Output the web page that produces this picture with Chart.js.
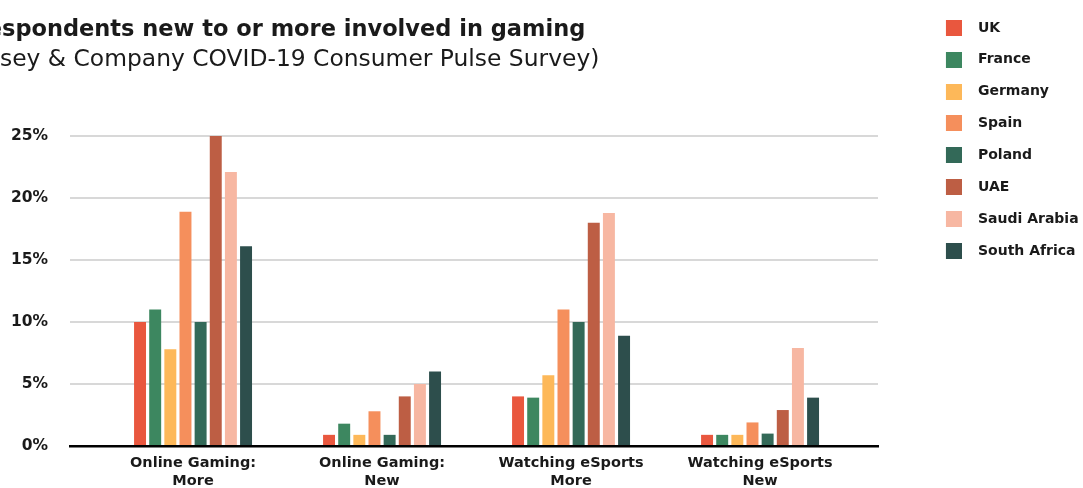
<!DOCTYPE html>
<html lang="en">
<head>
    <meta charset="UTF-8">
    <title>Gaming during COVID-19</title>
    <script src="https://cdn.jsdelivr.net/npm/chart.js@4"></script>
    <style>
        body {
            margin: 0;
            background: #ffffff;
            overflow: hidden;
        }
        #wrap {
            position: relative;
            width: 1083px;
            height: 488px;
            overflow: hidden;
        }
        #chart {
            position: absolute;
            left: 0;
            top: 0;
        }
        .head {
            position: absolute;
            left: 2px;
            white-space: nowrap;
            font-family: "DejaVu Sans", sans-serif;
            color: #1a1a1a;
            line-height: 1;
            z-index: 2;
        }
        .head .cut {
            position: absolute;
            right: 100%;
        }
        #title {
            top: 17px;
            font-size: 22.5px;
            font-weight: bold;
        }
        #subtitle {
            top: 47px;
            left: 0;
            font-size: 23.4px;
        }
    </style>
</head>
<body>
<div id="wrap">
    <div id="title" class="head"><span class="cut">% of re</span>spondents new to or more involved in gaming</div>
    <div id="subtitle" class="head"><span class="cut">(McKin</span>sey &amp; Company COVID-19 Consumer Pulse Survey)</div>
    <canvas id="chart" width="1083" height="488"></canvas>
</div>

<script>
    const categories = [
        ["Online Gaming:", "More"],
        ["Online Gaming:", "New"],
        ["Watching eSports", "More"],
        ["Watching eSports", "New"]
    ];
    const countries = ["UK", "France", "Germany", "Spain", "Poland", "UAE", "Saudi Arabia", "South Africa"];
    const colors = ["#e9573e", "#3d8760", "#fdb859", "#f58f5c", "#336958", "#bd5e44", "#f7b7a2", "#2d4e4c"];

    const ukValues = [10, 0.9, 4, 0.9];
    const franceValues = [11, 1.8, 3.9, 0.9];
    const germanyValues = [7.8, 0.9, 5.7, 0.9];
    const spainValues = [18.9, 2.8, 11, 1.9];
    const polandValues = [10, 0.9, 10, 1];
    const uaeValues = [25, 4, 18, 2.9];
    const saudiValues = [22.1, 5, 18.8, 7.9];
    const southAfricaValues = [16.1, 6, 8.9, 3.9];
    const seriesValues = [ukValues, franceValues, germanyValues, spainValues, polandValues, uaeValues, saudiValues, southAfricaValues];

    const yTicks = [0, 5, 10, 15, 20, 25];

    const LEGEND_WIDTH = 205;
    const SWATCH_W = 57;
    const SWATCH_SIZE = 16;

    // legend squares: drawn at the right end of a wider transparent image, to get the gap before the text
    const swatches = colors.map(c => {
        const cv = document.createElement("canvas");
        cv.width = SWATCH_W;
        cv.height = SWATCH_SIZE;
        const g = cv.getContext("2d");
        g.fillStyle = c;
        g.fillRect(SWATCH_W - SWATCH_SIZE, 0, SWATCH_SIZE, SWATCH_SIZE);
        return cv;
    });

    const legendWidthPlugin = {
        id: "legendWidth",
        beforeLayout(chart) {
            const lg = chart.legend;
            if (lg && !lg._fixedWidth) {
                const fit = lg.fit;
                lg.fit = function () {
                    fit.call(this);
                    this.width = LEGEND_WIDTH;
                };
                lg._fixedWidth = true;
            }
        }
    };

    const datasets = countries.map((name, i) => ({
        label: name,
        data: seriesValues[i].map((v, j) => ({x: j, y: v})),
        backgroundColor: colors[i],
        borderWidth: 0,
        categoryPercentage: 0.641,
        barPercentage: 0.79
    }));

    const ctx = document.getElementById("chart").getContext("2d");
    new Chart(ctx, {
        type: "bar",
        data: {datasets: datasets},
        plugins: [legendWidthPlugin],
        options: {
            responsive: false,
            animation: false,
            layout: {padding: {top: 3, left: 0, right: 0, bottom: 0}},
            plugins: {
                tooltip: {enabled: false},
                title: {
                    display: true,
                    text: "",
                    fullSize: false,
                    font: {size: 10, lineHeight: 1},
                    padding: {top: 0, bottom: 123}
                },
                legend: {
                    position: "right",
                    align: "start",
                    labels: {
                        usePointStyle: true,
                        pointStyleWidth: 75.1,
                        padding: 17.86,
                        color: "#1a1a1a",
                        font: {family: "DejaVu Sans", size: 14, weight: "bold"},
                        generateLabels(chart) {
                            const items = Chart.defaults.plugins.legend.labels.generateLabels(chart);
                            items.forEach((it, i) => { it.pointStyle = swatches[i]; });
                            return items;
                        }
                    }
                }
            },
            scales: {
                x: {
                    type: "linear",
                    offset: false,
                    min: -0.651,
                    max: 3.624,
                    afterBuildTicks(axis) {
                        axis.ticks = categories.map((c, i) => ({value: i}));
                    },
                    afterFit(scale) {
                        scale.height = 42;
                    },
                    grid: {display: false, drawTicks: false, offset: false},
                    border: {display: true, color: "#000000", width: 2.5, z: 1},
                    ticks: {
                        autoSkip: false,
                        maxRotation: 0,
                        padding: 8,
                        color: "#1a1a1a",
                        font: {family: "DejaVu Sans", size: 14.5, weight: "bold", lineHeight: "18px"},
                        callback: value => categories[value]
                    }
                },
                y: {
                    min: 0,
                    max: 25,
                    afterBuildTicks(axis) {
                        axis.ticks = yTicks.map(v => ({value: v}));
                    },
                    afterFit(scale) {
                        scale.width = 70;
                    },
                    grid: {
                        drawTicks: false,
                        lineWidth: 2,
                        color: c => c.tick && c.tick.value === 0 ? "rgba(0,0,0,0)" : "#d8d8d8"
                    },
                    border: {display: false},
                    ticks: {
                        padding: 22,
                        color: "#1a1a1a",
                        font: {family: "DejaVu Sans", size: 15.5, weight: "bold"},
                        callback: value => value + "%"
                    }
                }
            }
        }
    });
</script>
</body>
</html>
